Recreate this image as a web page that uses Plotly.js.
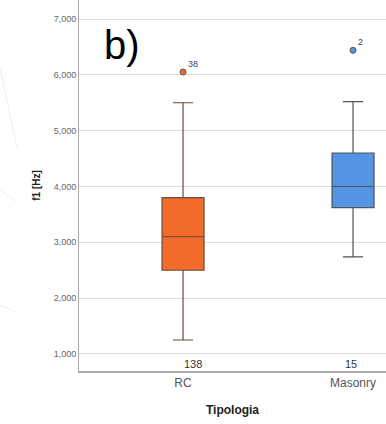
<!DOCTYPE html>
<html><head><meta charset="utf-8">
<script src="https://cdn.plot.ly/plotly-3.0.1.min.js"></script>
<style>html,body{margin:0;padding:0;background:#fff;}#chart{width:386px;height:424px;}</style>
</head><body><div id="chart"></div>
<script>
const categories = ['RC', 'Masonry'];
const q1 = [2500, 3620];
const medians = [3100, 4000];
const q3 = [3800, 4600];
const lowerWhisker = [1250, 2740];
const upperWhisker = [5500, 5520];
const outlierValues = [6050, 6440];
const outlierLabels = ['38', '2'];
const counts = ['138', '15'];
const fillColors = ['#F26B2B', '#5494E3'];
const edgeColors = ['#6b4a3a', '#4a5563'];

const traces = [];
categories.forEach((c, i) => {
  traces.push({
    type: 'box', x: [c], q1: [q1[i]], median: [medians[i]], q3: [q3[i]],
    lowerfence: [lowerWhisker[i]], upperfence: [upperWhisker[i]],
    fillcolor: fillColors[i], line: {color: edgeColors[i], width: 1.2},
    width: 0.247, whiskerwidth: 0.48, boxpoints: false, hoverinfo: 'skip', showlegend: false
  });
  traces.push({
    type: 'scatter', mode: 'markers', x: [c], y: [outlierValues[i]],
    marker: {color: fillColors[i], size: 6, line: {color: '#555', width: 1}},
    showlegend: false, hoverinfo: 'skip'
  });
});

const annotations = [];
categories.forEach((c, i) => {
  annotations.push({x: c, y: outlierValues[i], text: outlierLabels[i], showarrow: false,
    xanchor: 'left', yanchor: 'bottom', xshift: 3, yshift: 1,
    font: {family: 'Liberation Sans, Arial', size: 9, color: '#444'}});
  annotations.push({x: c, y: 820, text: counts[i], showarrow: false,
    xshift: i === 0 ? 10 : -2,
    font: {family: 'Liberation Sans, Arial', size: 11, color: '#333'}});
});
annotations.push({xref: 'paper', yref: 'paper', x: 0.075, y: 0.88, text: 'b)', showarrow: false,
  xanchor: 'left', yanchor: 'middle', font: {family: 'Liberation Sans, Arial', size: 40, color: '#000'}});

const faint = 'rgba(150,200,150,0.22)';
const px = v => (v - 79) / 307;
const py = v => 1 - v / 371;
const shapes = [
  {type: 'line', xref: 'paper', yref: 'paper', x0: px(0), y0: py(68), x1: px(17), y1: py(148), line: {color: faint, width: 1}},
  {type: 'line', xref: 'paper', yref: 'paper', x0: px(0), y0: py(190), x1: px(17), y1: py(202), line: {color: faint, width: 1}},
  {type: 'line', xref: 'paper', yref: 'paper', x0: px(0), y0: py(305), x1: px(17), y1: py(313), line: {color: faint, width: 1}}
];

const layout = {
  width: 386, height: 424,
  margin: {l: 79, r: 0, t: 0, b: 53},
  paper_bgcolor: '#fff', plot_bgcolor: '#fff',
  showlegend: false,
  xaxis: {
    type: 'category', categoryarray: categories, range: [-0.612, 1.194],
    showgrid: false, zeroline: false, showline: true, linecolor: '#aaa', linewidth: 1.5,
    ticks: '', tickfont: {family: 'Liberation Sans, Arial', size: 12, color: '#555'},
    title: {text: '<b>Tipologia</b>', font: {family: 'Liberation Sans, Arial', size: 12, color: '#222'}, standoff: 16}
  },
  yaxis: {
    range: [695, 7341], tickvals: [1000, 2000, 3000, 4000, 5000, 6000, 7000],
    tickformat: ',d', showgrid: true, gridcolor: '#dcdcdc', gridwidth: 1,
    zeroline: false, showline: true, linecolor: '#aaa', linewidth: 1,
    ticks: '', tickfont: {family: 'Liberation Sans, Arial', size: 9, color: '#666'},
    title: {text: '<b>f1 [Hz]</b>', font: {family: 'Liberation Sans, Arial', size: 10, color: '#222'}, standoff: 11}
  },
  annotations: annotations, shapes: shapes
};
Plotly.newPlot('chart', traces, layout, {displayModeBar: false, staticPlot: true});
</script></body></html>
